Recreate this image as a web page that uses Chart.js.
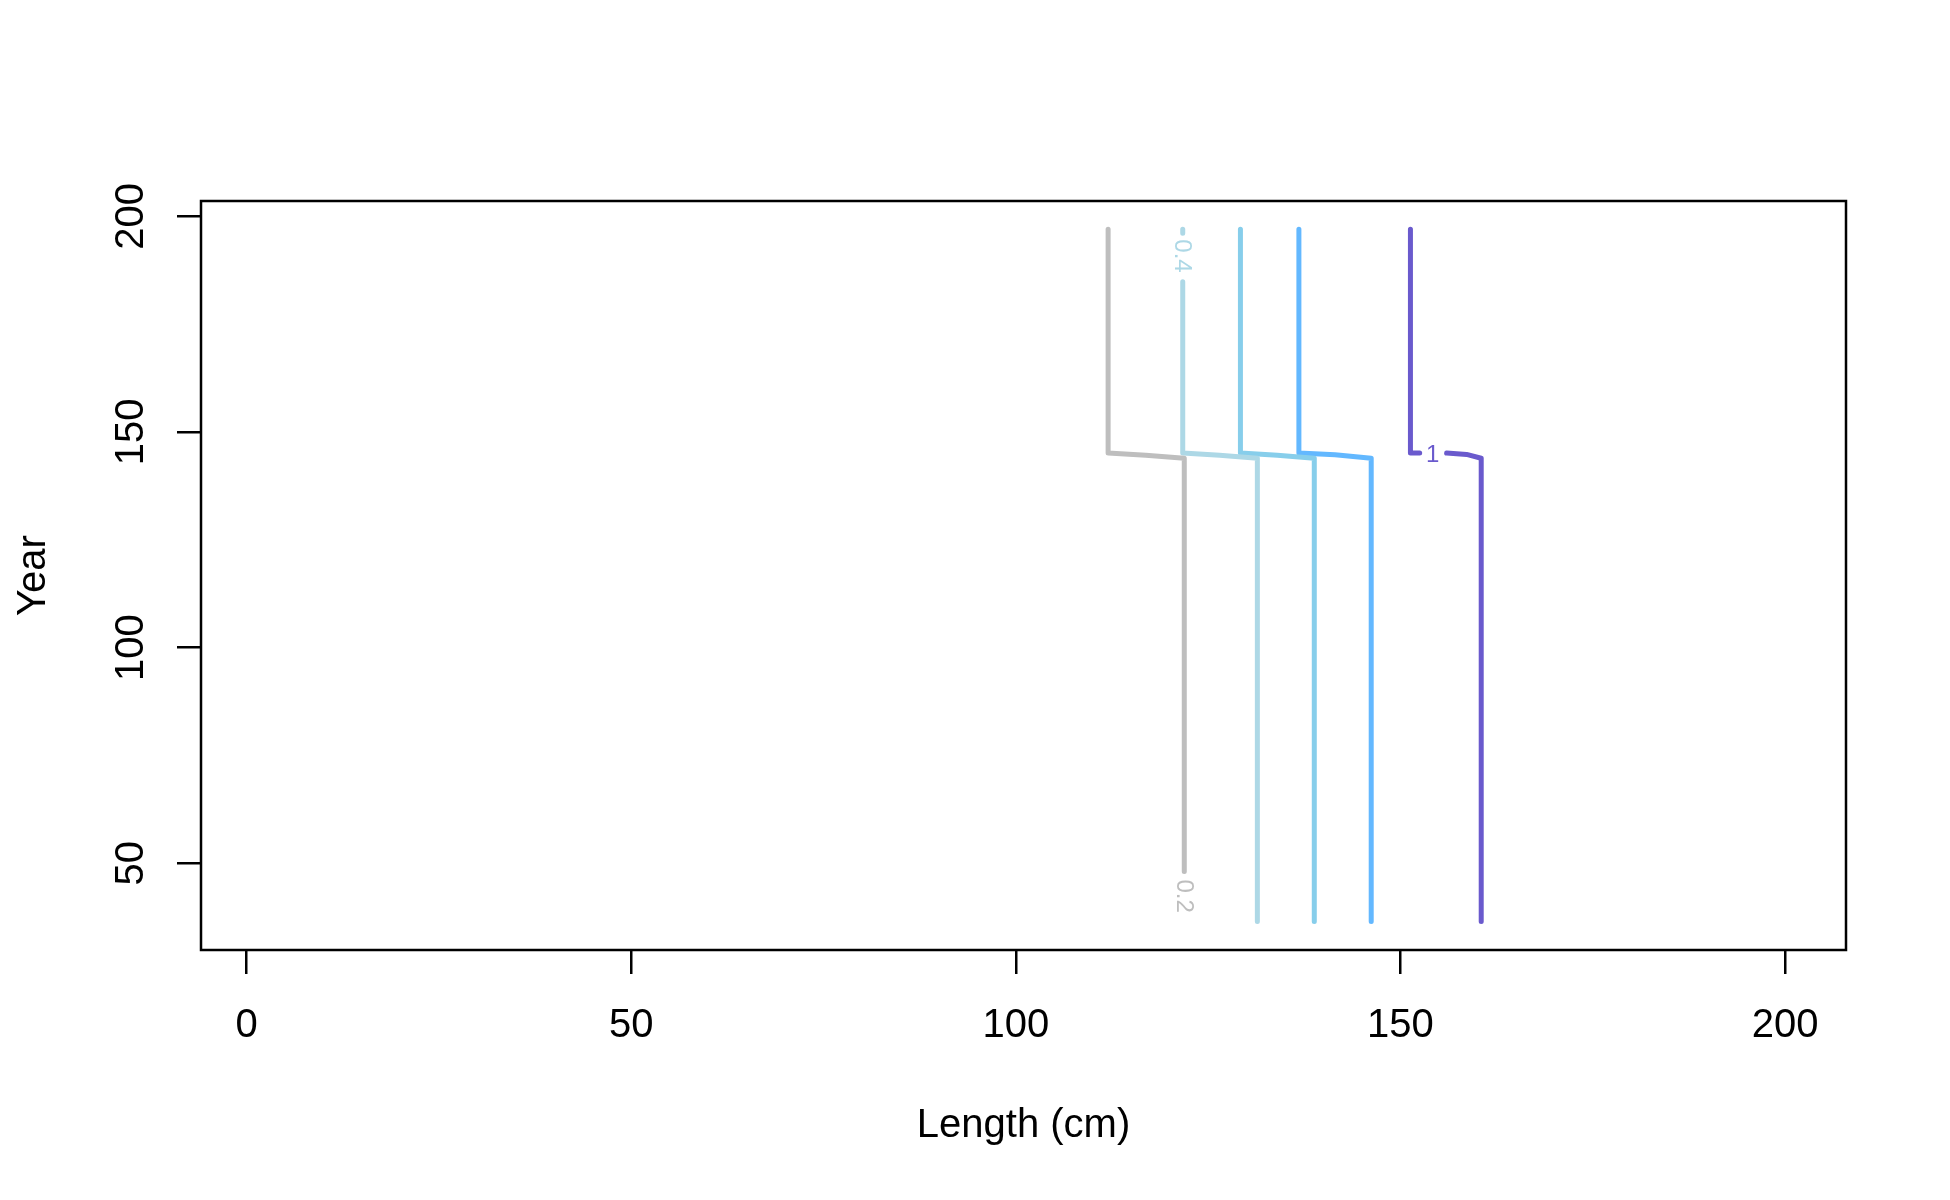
<!DOCTYPE html>
<html>
<head>
<meta charset="utf-8">
<script src="https://cdn.jsdelivr.net/npm/chart.js@4"></script>
<style>
html,body{margin:0;padding:0;background:#fff;overflow:hidden;}
canvas{display:block;}
</style>
</head>
<body>
<canvas id="c" width="1950" height="1200"></canvas>
<script>
// ---- data ----
const levels = ['0.2', '0.4', '0.6', '0.8', '1'];
const levelColors = ['#BEBEBE', '#ADD8E6', '#87CEEB', '#63B8FF', '#6A5ACD'];

// contour paths (Length, Year); null = break for the inline label
const c02_x = [112.0, 112.0, 116.9, 121.9, 121.9];
const c02_y = [197.0, 145.1, 144.6, 143.9, 48.1];
const c04_x = [121.7, 121.7, 121.7, 121.7, 121.7, 126.5, 131.4, 131.4];
const c04_y = [197.0, 196.1, null, 184.8, 145.1, 144.6, 143.9, 36.5];
const c06_x = [129.2, 129.2, 134.0, 138.8, 138.8];
const c06_y = [197.0, 145.1, 144.6, 143.9, 36.5];
const c08_x = [136.8, 136.8, 141.5, 146.2, 146.2];
const c08_y = [197.0, 145.1, 144.7, 143.9, 36.5];
const c10_x = [151.3, 151.3, 152.5, 154.2, 156.0, 158.6, 160.5, 160.5];
const c10_y = [197.0, 145.1, 145.1, null, 145.1, 144.8, 143.9, 36.5];

// inline contour labels
const labelText = ['0.2', '0.4', '1'];
const labelX = [121.9, 121.7, 154.2];
const labelY = [42.4, 190.8, 144.7];
const labelRotated = [true, true, false];
const labelColor = ['#BEBEBE', '#ADD8E6', '#6A5ACD'];

const xTicks = [0, 50, 100, 150, 200];
const yTicks = [50, 100, 150, 200];
const xLimits = [-5.92, 207.92];
const yLimits = [29.9, 203.55];
const xTitle = 'Length (cm)';
const yTitle = 'Year';

// ---- build ----
function pts(xs, ys) { return xs.map((x, i) => ({ x: x, y: ys[i] })); }
const paths = [pts(c02_x, c02_y), pts(c04_x, c04_y), pts(c06_x, c06_y), pts(c08_x, c08_y), pts(c10_x, c10_y)];

const FONT = '"Liberation Sans", Arial, Helvetica, sans-serif';

const decor = {
  id: 'decor',
  afterDatasetsDraw(chart) {
    const ctx = chart.ctx, xs = chart.scales.x, ys = chart.scales.y, a = chart.chartArea;
    ctx.save();
    // contour labels
    ctx.font = '24px ' + FONT;
    ctx.textAlign = 'center';
    ctx.textBaseline = 'middle';
    labelText.forEach((t, i) => {
      const px = xs.getPixelForValue(labelX[i]);
      const py = ys.getPixelForValue(labelY[i]);
      ctx.save();
      ctx.translate(px, py);
      if (labelRotated[i]) ctx.rotate(Math.PI / 2);
      ctx.fillStyle = labelColor[i];
      ctx.fillText(t, 0, 1);
      ctx.restore();
    });
    // frame
    ctx.strokeStyle = '#000';
    ctx.lineWidth = 2.5;
    ctx.strokeRect(a.left, a.top, a.right - a.left, a.bottom - a.top);
    // tick labels
    ctx.fillStyle = '#000';
    ctx.font = '40px ' + FONT;
    ctx.textAlign = 'center';
    ctx.textBaseline = 'alphabetic';
    xTicks.forEach(v => ctx.fillText(String(v), xs.getPixelForValue(v), 1037));
    yTicks.forEach(v => {
      ctx.save();
      ctx.translate(143, ys.getPixelForValue(v));
      ctx.rotate(-Math.PI / 2);
      ctx.fillText(String(v), 0, 0);
      ctx.restore();
    });
    // axis titles
    ctx.fillText(xTitle, (a.left + a.right) / 2, 1137);
    ctx.save();
    ctx.translate(45, (a.top + a.bottom) / 2);
    ctx.rotate(-Math.PI / 2);
    ctx.fillText(yTitle, 0, 0);
    ctx.restore();
    ctx.restore();
  }
};

const gridOpts = {
  display: true, drawOnChartArea: false, drawTicks: true,
  tickLength: 24, tickColor: '#000', tickWidth: 2.5, color: '#000', lineWidth: 2.5
};

new Chart(document.getElementById('c'), {
  type: 'scatter',
  data: {
    datasets: levels.map((lv, i) => ({
      label: lv,
      data: paths[i],
      showLine: true,
      spanGaps: false,
      borderColor: levelColors[i],
      backgroundColor: levelColors[i],
      borderWidth: 5,
      borderCapStyle: 'round',
      borderJoinStyle: 'round',
      pointRadius: 0,
      pointHoverRadius: 0,
      tension: 0
    }))
  },
  options: {
    responsive: false,
    animation: false,
    devicePixelRatio: 1,
    layout: { padding: { left: 0, top: 201, right: 104, bottom: 0 } },
    plugins: { legend: { display: false }, tooltip: { enabled: false } },
    scales: {
      x: {
        type: 'linear', min: xLimits[0], max: xLimits[1],
        afterBuildTicks: s => { s.ticks = xTicks.map(v => ({ value: v })); },
        afterFit: s => { s.height = 250; },
        ticks: { display: false },
        grid: gridOpts,
        border: { display: false }
      },
      y: {
        type: 'linear', min: yLimits[0], max: yLimits[1],
        afterBuildTicks: s => { s.ticks = yTicks.map(v => ({ value: v })); },
        afterFit: s => { s.width = 201; },
        ticks: { display: false },
        grid: gridOpts,
        border: { display: false }
      }
    }
  },
  plugins: [decor]
});
</script>
</body>
</html>
